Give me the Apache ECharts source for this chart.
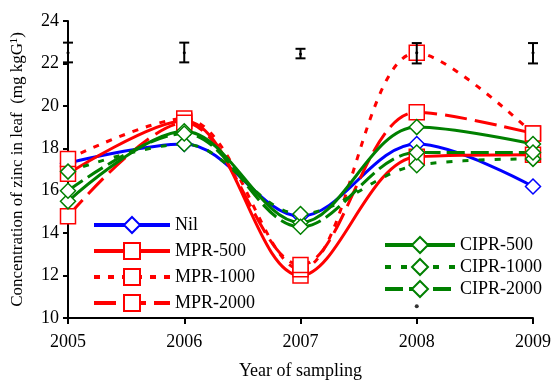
<!DOCTYPE html>
<html>
<head>
<meta charset="utf-8">
<script src="https://cdn.jsdelivr.net/npm/echarts@6/dist/echarts.min.js"></script>
<style>
  html, body { margin: 0; padding: 0; background: #fff; }
  #main { width: 554px; height: 385px; }
</style>
</head>
<body>
<div id="main"></div>
<script>
// 年份
var years = ['2005', '2006', '2007', '2008', '2009'];

// 各处理的锌含量
var nil      = [17.3, 18.2, 14.8, 18.2, 16.2];
var mpr500   = [16.8, 19.3, 12.0, 17.6, 17.7];
var mpr1000  = [17.5, 19.4, 12.3, 22.5, 18.7];
var mpr2000  = [14.8, 19.2, 12.5, 19.7, 18.7];
var cipr500  = [15.5, 18.8, 14.5, 19.0, 18.2];
var cipr1000 = [16.9, 18.2, 14.9, 17.2, 17.5];
var cipr2000 = [16.0, 18.7, 14.3, 17.8, 17.8];

// 误差棒 (LSD)
var errLow  = [22.05, 22.05, 22.24, 22.0, 22.0];
var errHigh = [22.98, 22.98, 22.69, 22.96, 22.96];
var errMid  = [22.5, 22.5, 22.45, 22.5, 22.5];

// 图中多出的一个小点
var strayDot = [['2008', 10.55]];

var font = 'Liberation Serif, Times New Roman, serif';

function line(name, data, color, dash, symbol) {
  return {
    name: name,
    type: 'line',
    data: data,
    smooth: 0.35,
    symbol: symbol,
    symbolSize: 15,
    showAllSymbol: true,
    lineStyle: { color: color, width: 3, type: dash },
    itemStyle: { color: '#fff', borderColor: color, borderWidth: 1.5 }
  };
}

var chart = echarts.init(document.getElementById('main'));
chart.setOption({
  animation: false,
  grid: { left: 68, right: 18, top: 21, bottom: 60 },
  legend: [
    {
      data: ['Nil', 'MPR-500', 'MPR-1000', 'MPR-2000'],
      orient: 'vertical',
      left: 87, top: 211,
      itemWidth: 76, itemHeight: 20, itemGap: 8,
      lineStyle: { width: 4 },
      textStyle: { fontFamily: font, fontSize: 18, color: '#000' }
    },
    {
      data: ['CIPR-500', 'CIPR-1000', 'CIPR-2000'],
      orient: 'vertical',
      left: 378, top: 231,
      itemWidth: 70, itemHeight: 20, itemGap: 4,
      lineStyle: { width: 4 },
      textStyle: { fontFamily: font, fontSize: 18, color: '#000' }
    }
  ],
  xAxis: {
    type: 'category',
    data: years,
    boundaryGap: false,
    name: 'Year of sampling',
    nameLocation: 'middle',
    nameGap: 44,
    nameTextStyle: { fontFamily: font, fontSize: 18, color: '#000' },
    axisLine: { lineStyle: { color: '#000', width: 2 } },
    axisTick: { length: 6, lineStyle: { color: '#000', width: 2 } },
    axisLabel: { fontFamily: font, fontSize: 18, color: '#000', margin: 15 }
  },
  yAxis: {
    type: 'value',
    min: 10, max: 24, interval: 2,
    name: 'Concentration of zinc in leaf  (mg kgG¹)',
    nameLocation: 'middle',
    nameGap: 42,
    nameTextStyle: { fontFamily: font, fontSize: 17, color: '#000' },
    axisLine: { show: true, lineStyle: { color: '#000', width: 2 } },
    axisTick: { show: true, length: 5, lineStyle: { color: '#000', width: 2 } },
    axisLabel: { fontFamily: font, fontSize: 18, color: '#000', margin: 9 },
    splitLine: { show: false }
  },
  series: [
    line('Nil', nil, '#0000ff', 'solid', 'diamond'),
    line('MPR-500', mpr500, '#ff0000', 'solid', 'rect'),
    line('MPR-1000', mpr1000, '#ff0000', [6, 8], 'rect'),
    line('MPR-2000', mpr2000, '#ff0000', [22, 8], 'rect'),
    line('CIPR-500', cipr500, '#008000', 'solid', 'diamond'),
    line('CIPR-1000', cipr1000, '#008000', [6, 10], 'diamond'),
    line('CIPR-2000', cipr2000, '#008000', [18, 6], 'diamond'),
    {
      type: 'custom',
      data: years.map(function (y, i) { return [i, errLow[i], errHigh[i], errMid[i]]; }),
      z: 10,
      renderItem: function (params, api) {
        var lo = api.coord([api.value(0), api.value(1)]);
        var hi = api.coord([api.value(0), api.value(2)]);
        var mid = api.coord([api.value(0), api.value(3)]);
        var w = 5;
        var st = { stroke: '#000', lineWidth: 2 };
        return {
          type: 'group',
          children: [
            { type: 'line', shape: { x1: lo[0], y1: lo[1], x2: hi[0], y2: hi[1] }, style: st },
            { type: 'line', shape: { x1: lo[0] - w, y1: lo[1], x2: lo[0] + w, y2: lo[1] }, style: st },
            { type: 'line', shape: { x1: hi[0] - w, y1: hi[1], x2: hi[0] + w, y2: hi[1] }, style: st },
            { type: 'circle', shape: { cx: mid[0], cy: mid[1], r: 1.5 }, style: { fill: '#000' } }
          ]
        };
      }
    },
    {
      type: 'scatter',
      data: strayDot,
      symbolSize: 4,
      itemStyle: { color: '#000' }
    }
  ]
});
</script>
</body>
</html>
